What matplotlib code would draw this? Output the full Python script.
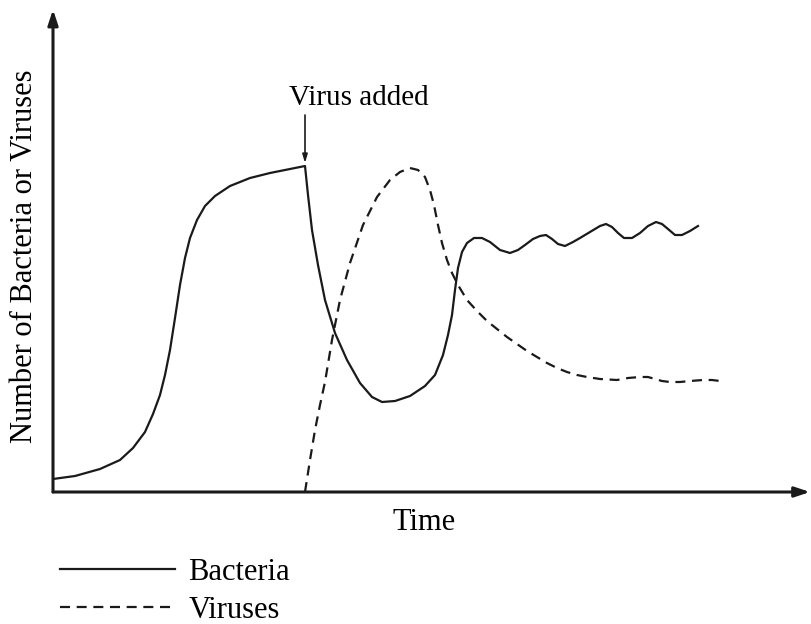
import matplotlib
matplotlib.use('Agg')
import numpy as np
import matplotlib.pyplot as plt

plt.rcParams['font.family'] = ['Liberation Serif', 'DejaVu Serif']

# values (time and count in arbitrary units)
bact_t = [0, 22, 47, 67, 80, 92, 100, 107, 112, 117, 122, 127, 132, 137, 144, 152, 162, 177,
          197, 217, 237, 252,
          255, 259, 265, 272, 282, 294, 307, 319, 329, 342, 357, 372, 382, 390, 395, 399, 402,
          405, 409, 414, 421, 429, 437, 447, 457, 465, 472, 480, 487, 493, 499, 505, 512, 520,
          527, 537, 547, 553, 559, 565, 571, 579, 587, 595, 603, 609, 615, 622, 629, 637, 645]
bact_n = [13, 16, 23, 32, 44, 60, 78, 97, 117, 142, 174, 207, 234, 254, 272, 286, 296, 306,
          314, 319, 323, 326,
          297, 262, 227, 192, 159, 132, 109, 95, 90, 91, 96, 106, 117, 137, 157, 177, 202,
          224, 240, 249, 254, 254, 250, 242, 239, 242, 247, 253, 256, 257, 253, 248, 246, 250,
          254, 260, 266, 268, 265, 259, 254, 254, 259, 266, 270, 268, 263, 257, 257, 261, 266]

vir_t = [252, 257, 262, 267, 272, 279, 287, 297, 310, 324, 337, 347, 357, 365, 372, 377, 381,
         385, 389, 394, 399, 405, 414, 424, 434, 444, 454, 464, 474, 484, 494, 504, 514, 524,
         534, 547, 564, 575, 587, 595, 602, 609, 617, 627, 637, 650, 659, 667]
vir_n = [0, 32, 62, 87, 110, 152, 192, 229, 267, 295, 312, 320, 324, 322, 315, 302, 287,
         267, 249, 232, 219, 207, 192, 181, 171, 163, 155, 148, 141, 135, 129, 124, 120, 117,
         115, 113, 112, 114, 115, 115, 113, 111, 110, 110, 111, 112, 112, 111]

added_t = 252

fig = plt.figure(figsize=(8.12, 6.24), dpi=100)
ax = fig.add_axes([53 / 812, 132 / 624, 757 / 812, 480 / 624])
ax.set_xlim(0, 757)
ax.set_ylim(0, 480)
ax.axis('off')

ax.plot(bact_t, bact_n, color='#1a1a1a', lw=1.6, label='Bacteria')
ax.plot(vir_t, vir_n, color='#1a1a1a', lw=1.6, dashes=(4.5, 3), label='Viruses')

# axes with arrow heads
arrow = dict(arrowstyle='-|>,head_length=0.9,head_width=0.3', color='#1a1a1a', lw=2.2,
             shrinkA=0, shrinkB=0)
ax.annotate('', xy=(0, 1.005), xytext=(0, 0), xycoords='axes fraction', arrowprops=arrow)
ax.annotate('', xy=(1, 0), xytext=(0, 0), xycoords='axes fraction', arrowprops=arrow)

# virus added marker
ax.annotate('', xy=(added_t, 329), xytext=(added_t, 377),
            arrowprops=dict(arrowstyle='-|>,head_length=0.5,head_width=0.15',
                            color='#1a1a1a', lw=1.2, shrinkA=0, shrinkB=0))
ax.text(added_t - 16, 381, 'Virus added', ha='left', va='bottom', fontsize=21)

fig.text(424 / 812, 1 - 522 / 624, 'Time', ha='center', va='center', fontsize=22)
fig.text(25 / 812, 1 - 256 / 624, 'Number of Bacteria or Viruses', ha='center', va='center',
         rotation=90, fontsize=22)

fig.legend(loc='upper left', bbox_to_anchor=(60 / 812, 1 - 558 / 624), frameon=False,
           fontsize=22, handlelength=3.75, handletextpad=0.45, labelspacing=0.3,
           borderpad=0, borderaxespad=0)

fig.savefig('out.png', dpi=100)
